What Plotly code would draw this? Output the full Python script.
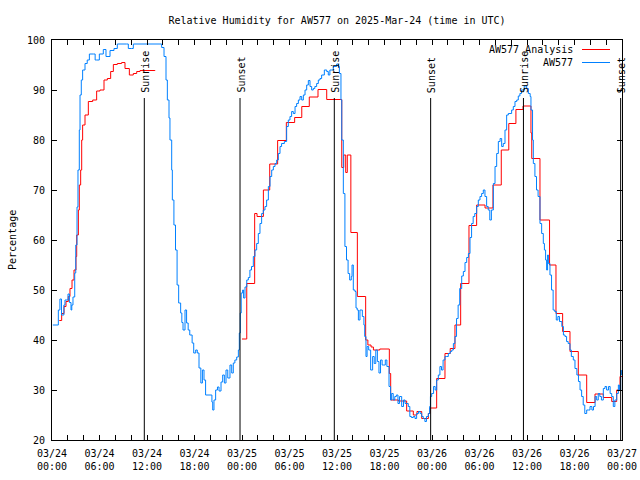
import plotly.graph_objects as go
import pandas as pd

# ---------------- data (hours since 2025-03-24 00:00 UTC) ----------------
BASE = "2025-03-24 00:00"

obs_hours = [0.1, 0.8, 1.0, 1.2, 1.5, 1.64, 2.02, 2.2, 2.4, 2.5, 2.65, 2.87, 3.0, 3.16, 3.28, 3.45, 3.54, 3.7, 3.87,
             4.17, 4.45, 4.72, 5.22, 5.45, 5.64, 5.98, 6.48, 6.82, 7.33, 7.83, 8.25, 9.43, 9.64, 10.06, 10.27,
             13.64, 13.85, 14.15, 14.4, 14.57, 14.78, 14.9, 15.12, 15.2, 15.4, 15.6, 15.8, 16.0, 16.25, 16.4,
             16.55, 16.8, 17.0, 17.2, 17.4, 17.7, 17.9, 18.15, 18.35, 18.57, 18.8, 19.0, 19.2, 19.4, 19.96, 20.2,
             20.3, 20.46, 20.67, 20.9, 21.1, 21.35, 21.56, 21.77, 21.98, 22.2, 22.48, 22.7, 22.9, 23.1, 23.33,
             23.54, 23.66, 23.78, 23.9, 24.08, 24.2, 24.38, 24.6, 24.8, 25.0, 25.2, 25.43, 25.64, 25.85, 26.06,
             26.27, 26.48, 26.69, 26.9, 27.11, 27.33, 27.54, 27.75, 27.96, 28.17, 28.38, 28.59, 28.8, 29.0,
             29.35, 29.64, 29.85, 30.06, 30.27, 30.48, 30.7, 30.9, 31.12, 31.33, 31.54, 31.75, 31.96, 32.17,
             32.38, 32.59, 32.8, 33.0, 33.2, 33.43, 33.64, 33.85, 34.06, 34.4, 34.7, 34.9, 35.1, 35.53, 35.96,
             36.17, 36.3, 36.5, 36.6, 36.8, 37.0, 37.2, 37.4, 37.6, 37.8, 37.9, 38.06, 38.27, 38.4, 38.55, 38.7,
             38.9, 39.05, 39.2, 39.4, 39.5, 39.66, 39.8, 40.0, 40.25, 40.5, 40.7, 40.9, 41.1, 41.3, 41.5, 41.7,
             41.9, 42.1, 42.3, 42.57, 42.77, 42.9, 43.1, 43.3, 43.5, 43.7, 43.9, 44.17, 44.4, 44.6, 44.8, 45.0,
             45.2, 45.4, 45.64, 45.85, 46.06, 46.3, 46.5, 46.7, 46.9, 47.1, 47.3, 47.54, 47.7, 47.8, 47.96, 48.2,
             48.4, 48.59, 48.8, 49.0, 49.2, 49.4, 49.64, 49.85, 50.06, 50.3, 50.5, 50.7, 50.9, 51.1, 51.3, 51.5,
             51.75, 51.96, 52.17, 52.38, 52.6, 52.8, 53.0, 53.2, 53.4, 53.64, 53.85, 54.06, 54.27, 54.48, 54.69,
             54.9, 55.1, 55.3, 55.5, 55.75, 55.96, 56.17, 56.38, 56.6, 56.8, 57.0, 57.22, 57.43, 57.64, 57.85,
             58.06, 58.27, 58.48, 58.7, 58.9, 59.1, 59.3, 59.65, 59.96, 60.17, 60.4, 60.5, 60.7, 60.8, 61.0, 61.2,
             61.4, 61.64, 61.85, 62.06, 62.2, 62.35, 62.48, 62.6, 62.7, 62.9, 63.1, 63.3, 63.5, 63.7, 63.9, 64.1,
             64.4, 64.6, 64.8, 65.0, 65.2, 65.43, 65.6, 65.85, 66.06, 66.3, 66.5, 66.7, 66.9, 67.1, 67.3, 67.54,
             67.75, 67.96, 68.2, 68.4, 68.6, 68.8, 69.0, 69.2, 69.4, 69.64, 69.85, 70.06, 70.3, 70.5, 70.7, 70.9,
             71.1, 71.33, 71.54, 71.67, 71.83, 71.96]
obs_values = [43, 46, 48.2, 45, 47, 48, 49.2, 47.5, 46, 47, 48.6, 53.4, 59, 66.6, 74, 82, 89, 92, 94,
              95.3, 96, 97.2, 97.2, 96, 96, 97.2, 98.1, 96.7, 97.9, 98.3, 99.2, 99.2, 98.3, 98.3, 99.2,
              99.2, 98.5, 96.7, 92, 88, 84.4, 80, 74, 68, 63, 58, 51, 47.4, 45.4, 43.5,
              42, 46, 43.4, 42, 41, 39.4, 37.4, 38, 37.4, 34.4, 31.4, 34, 32, 29, 29, 27.6,
              26, 28, 30, 30.6, 29.8, 31.6, 33, 31.4, 34, 32.4, 35, 33.4, 35.4, 36, 36.6,
              38, 41.4, 45.4, 49.4, 50, 48.4, 50.6, 52, 52.5, 54, 54.7, 56.7, 58, 59.3, 61.3,
              63.3, 65.3, 66, 66.7, 68, 70.7, 72.7, 74, 74.7, 75.3, 76, 77.3, 78.7, 79.3,
              79.7, 82.7, 84, 84.7, 85.7, 85.3, 86.7, 87.3, 88, 88.7, 88, 89, 90, 91,
              91.9, 90.7, 90, 90.3, 90.7, 91.3, 92, 92.3, 93, 94, 93.7, 93, 94, 94.7, 95.2,
              94.7, 93.3, 88, 80, 69.3, 58.7, 56, 53.3, 52, 52.7, 55, 50, 49.7, 46.4, 46, 44,
              46, 46, 44.7, 43, 40.7, 36.7, 38.7, 38, 34, 36.7, 35.3, 38, 35.7, 33.4, 36, 35,
              35, 36, 34.7, 30.7, 28, 29.3, 28, 28.7, 29, 27.3, 28.7, 26.7, 28, 27.3, 27.3, 26.7,
              24.7, 24.5, 24.7, 24.3, 25.3, 25.7, 25.3, 24.7, 24.3, 23.7, 24.7, 25.3, 26.7, 28.7, 29.3, 30.7,
              30, 32, 33, 34.7, 34, 36, 36.7, 36.7, 37.3, 37.7, 38, 39.3, 40.7, 44.3, 47, 50.3,
              52.8, 53.7, 55.5, 56.5, 57.3, 60.5, 63.3, 64.7, 65.3, 66.7, 68, 68.7, 69.3, 70, 68.7,
              66.7, 66, 64, 66, 71.3, 74.7, 77.3, 79.7, 80.3, 78.7, 79.3, 82, 85, 85.3, 85.3,
              86, 86.7, 87.7, 88, 88.8, 89.3, 90, 90.8, 90.3, 89.3, 88.7, 86, 80, 75.3, 72.7, 70,
              68.7, 63.3, 61.3, 59.3, 58, 56, 54, 57, 55.3, 53, 50, 46, 45.7, 44, 44.7, 43.7,
              42.7, 41, 40.7, 39.7, 39.3, 38, 36.7, 36, 34.3, 33, 31.7, 30, 28.7, 27, 25.3, 26,
              26, 26.7, 26, 26.7, 28.7, 28, 29.3, 28.7, 28, 30.3, 30.7, 30, 30.7, 29.3, 28.7, 26.7,
              28, 29.3, 31, 30, 33.9, 33]

ana_hours = [0.92, 1.22, 1.52, 1.77, 2.06, 2.27, 2.53, 2.78, 3.03, 3.12, 3.33, 3.45, 3.62, 3.75, 3.87, 4.17,
             4.59, 5.14, 5.64, 6.06, 6.57, 6.99, 7.41, 7.75, 8.25, 8.8, 9.22, 9.77, 10.27, 10.7, 11.12, 13.0,
             13.5,
             24.0, 24.6, 25.6, 25.9, 26.7, 27.5, 28.5, 29.6, 30.65, 31.55, 32.5, 33.6, 34.7, 36.6, 36.85, 37.1,
             37.3, 37.75, 38.57, 39.62, 39.9, 40.3, 40.6, 41.4, 42.61, 42.78, 43.75, 44.8, 45.64, 46.1, 46.7,
             47.54, 47.75, 48.59, 49.64, 50.3, 50.9, 51.62, 52.67, 53.64, 54.7, 55.7, 56.75, 57.7, 58.6, 59.5,
             60.5, 60.6, 61.64, 62.85, 63.66, 64.5, 65.43, 66.48, 67.54, 68.59, 69.64, 70.7, 71.33, 71.75, 72.0]
ana_values = [43.9, 45.3, 46.7, 47.7, 48.7, 50.3, 52, 54, 56.7, 61, 66, 71, 74, 80, 83, 85,
              87.7, 88, 89.8, 90, 92, 92.3, 93.7, 95.1, 95.3, 95.5, 94.3, 93, 93.3, 93.7, 93.9, 94,
              None,
              40.2, 51.3, 65.3, 64.7, 70, 75.2, 79.9, 83.5, 84.5, 86.7, 88.6, 90.1, 88.1, 74.5, 77, 73.5,
              77, 61.5, 48.7, 40, 39, 38.6, 38, 38.2, 33.3, 28, 27.8, 25.8, 25, 25.7, 24.3,
              25.3, 26.4, 32.3, 37.3, 38.3, 43, 51.3, 62.9, 67, 66.4, 71, 78, 83.3, 86.1, 86.8,
              81.4, 76.3, 64, 55, 45.3, 41.7, 37.7, 33, 27.5, 29.2, 28.5, 27.7, 30, 32.7, 32.7]

sun_hours = [11.66, 23.75, 35.66, 47.83, 59.55, 71.83]
sun_labels = ["Sunrise", "Sunset", "Sunrise", "Sunset", "Sunrise", "Sunset"]
sun_line_top = 88.4

series_names = ["AW577 Analysis", "AW577"]
series_colors = ["#ff0000", "#0080ff"]

# ---------------- figure ----------------
base = pd.Timestamp(BASE)
def to_time(hours):
    return [base + pd.Timedelta(hours=h) for h in hours]

FONT = "DejaVu Sans Mono"
fig = go.Figure()
fig.add_trace(go.Scatter(x=to_time(ana_hours), y=ana_values, mode="lines", name=series_names[0],
                         line=dict(color=series_colors[0], width=1, shape="hv"), connectgaps=False))
fig.add_trace(go.Scatter(x=to_time(obs_hours), y=obs_values, mode="lines", name=series_names[1],
                         line=dict(color=series_colors[1], width=1, shape="hv")))

for h, lab in zip(sun_hours, sun_labels):
    t = base + pd.Timedelta(hours=h)
    fig.add_shape(type="line", xref="x", yref="y", x0=t, x1=t, y0=20, y1=sun_line_top,
                  line=dict(color="black", width=1), layer="above")
    fig.add_annotation(x=t, xref="x", y=0.8625, yref="paper", text=lab, textangle=-90,
                       showarrow=False, xanchor="center", yanchor="bottom", xshift=1.5,
                       font=dict(family=FONT, size=10, color="black"))

# custom legend (text left, sample right, gnuplot style)
L, R, T, B = 52, 622, 40, 440
def px(xp): return (xp - L) / (R - L)
def py(yp): return (B - yp) / (B - T)
for i, (nm, col) in enumerate(zip(series_names, series_colors)):
    ypix = 49.5 + 13 * i
    fig.add_annotation(x=px(575), xref="paper", y=py(ypix), yref="paper", text=nm, showarrow=False,
                       xanchor="right", yanchor="middle", font=dict(family=FONT, size=10, color="black"))
    fig.add_shape(type="line", xref="paper", yref="paper", x0=px(582), x1=px(610), y0=py(ypix), y1=py(ypix),
                  line=dict(color=col, width=1))

fig.add_annotation(x=px(12), xref="paper", y=0.5, yref="paper", text="Percentage", textangle=-90,
                   showarrow=False, xanchor="center", yanchor="middle",
                   font=dict(family=FONT, size=10, color="black"))

fig.update_layout(
    width=640, height=480,
    margin=dict(l=52, r=18, t=40, b=40, autoexpand=False),
    paper_bgcolor="white", plot_bgcolor="white",
    showlegend=False,
    font=dict(family=FONT, size=10, color="black"),
    title=dict(text="Relative Humidity for AW577 on 2025-Mar-24 (time in UTC)", x=0.5, xref="paper",
               y=1 - 20 / 480, yref="container", yanchor="middle", xanchor="center",
               font=dict(family=FONT, size=10, color="black")),
    xaxis=dict(type="date", range=[base, base + pd.Timedelta(hours=72)], tick0=base, dtick=6 * 3600 * 1000,
               tickformat="%m/%d<br>%H:%M", ticks="inside", ticklen=5, tickcolor="black",
               showline=True, linecolor="black", linewidth=1, mirror="allticks",
               showgrid=False, zeroline=False, ticklabelstandoff=4, automargin=False,
               minor=dict(dtick=2 * 3600 * 1000, ticks="inside", ticklen=5, tickcolor="black", showgrid=False),
               tickfont=dict(family=FONT, size=10, color="black")),
    yaxis=dict(range=[20, 100], dtick=10, ticks="inside", ticklen=5, tickcolor="black",
               showline=True, linecolor="black", linewidth=1, mirror="allticks",
               showgrid=False, zeroline=False, ticklabelstandoff=4, automargin=False,
               tickfont=dict(family=FONT, size=10, color="black")),
)

fig.write_html("out.html", config={"displayModeBar": False},
               post_script="document.body.style.margin='0';document.body.style.overflow='hidden';")
